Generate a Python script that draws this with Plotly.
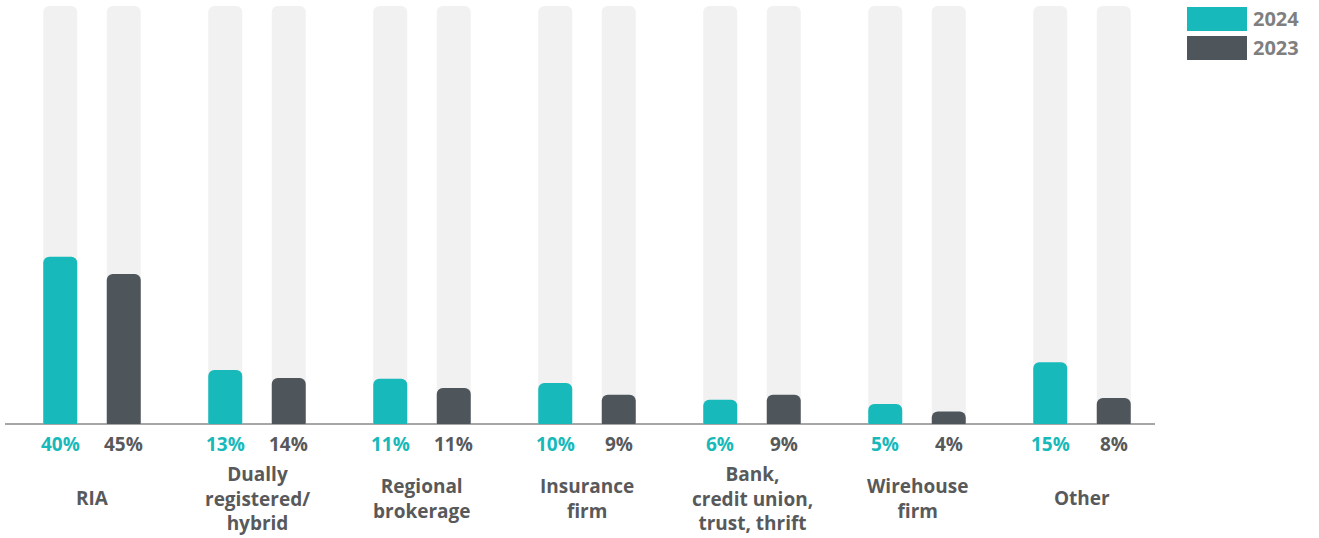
import numpy as np
import plotly.graph_objects as go

# ---- data ----
categories = ["RIA", "Dually<br>registered/<br>hybrid", "Regional<br>brokerage",
              "Insurance<br>firm", "Bank,<br>credit union,<br>trust, thrift",
              "Wirehouse<br>firm", "Other"]
labels_2024 = [40, 13, 11, 10, 6, 5, 15]
labels_2023 = [45, 14, 11, 9, 9, 4, 8]
# bar heights as drawn in the reference (percent of full track)
heights_2024 = [40.0, 12.9, 10.8, 9.8, 5.8, 4.8, 14.8]
heights_2023 = [35.9, 11.0, 8.6, 7.0, 7.0, 3.0, 6.2]
track_full = [100] * 7
series_names = ["2024", "2023"]

# ---- style ----
W, H = 1319, 538
TEAL = "#17B9BA"
DARK = "#4E565C"
TRACK = "#F1F1F1"
LABEL = "#58595B"
LEGEND_TXT = "#7F7F7F"
FONT = "Open Sans"
RADIUS = 6

px_per_cat = 165.0
first_center_px = 92.0
baseline_px = 424.0
px_per_unit = 4.18
off = 31.75 / px_per_cat
bw = 34 / px_per_cat

pos = np.arange(len(categories))
x24 = pos - off
x23 = pos + off

fig = go.Figure()
# background tracks on the base x axis
for xs in (x24, x23):
    fig.add_trace(go.Bar(x=xs, y=track_full, width=bw, xaxis="x", yaxis="y",
                         marker=dict(color=TRACK, line=dict(width=0), cornerradius=RADIUS),
                         hoverinfo="skip", showlegend=False))
# value bars on an overlaid x axis (same scale) so they get their own rounding
fig.add_trace(go.Bar(x=x24, y=heights_2024, width=bw, xaxis="x2", yaxis="y",
                     marker=dict(color=TEAL, line=dict(width=0), cornerradius=RADIUS),
                     name=series_names[0], showlegend=False))
fig.add_trace(go.Bar(x=x23, y=heights_2023, width=bw, xaxis="x2", yaxis="y",
                     marker=dict(color=DARK, line=dict(width=0), cornerradius=RADIUS),
                     name=series_names[1], showlegend=False))

annotations = []
for i in range(len(categories)):
    annotations.append(dict(x=x24[i], y=0, xref="x", yref="y", yshift=-20,
                            text=f"{labels_2024[i]}%", showarrow=False,
                            yanchor="middle", xanchor="center",
                            font=dict(family=FONT, size=19, color=TEAL, weight="bold")))
    annotations.append(dict(x=x23[i], y=0, xref="x", yref="y", yshift=-20,
                            text=f"{labels_2023[i]}%", showarrow=False,
                            yanchor="middle", xanchor="center",
                            font=dict(family=FONT, size=19, color=LABEL, weight="bold")))
    annotations.append(dict(x=pos[i], y=0, xref="x", yref="y", yshift=-74,
                            text=categories[i], showarrow=False,
                            yanchor="middle", xanchor="center", align="center",
                            font=dict(family=FONT, size=19, color=LABEL, weight="bold")))

# custom legend (wide swatches)
shapes = []
legend_colors = [TEAL, DARK]
for k, (nm, col) in enumerate(zip(series_names, legend_colors)):
    top = 7 + k * 29
    shapes.append(dict(type="rect", xref="paper", yref="paper",
                       x0=1187 / W, x1=1247 / W, y0=1 - (top + 24) / H, y1=1 - top / H,
                       fillcolor=col, line_width=0))
    annotations.append(dict(x=1251 / W, y=1 - (top + 12) / H, xref="paper", yref="paper",
                            text=nm, showarrow=False, xanchor="left", yanchor="middle",
                            font=dict(family=FONT, size=20, color=LEGEND_TXT, weight="bold")))

x_lo = (5 - first_center_px) / px_per_cat
x_hi = (1155 - first_center_px) / px_per_cat
y_top = baseline_px / px_per_unit
y_bot = -(H - baseline_px) / px_per_unit

axis_common = dict(domain=[5 / W, 1155 / W], range=[x_lo, x_hi], showgrid=False,
                   zeroline=False, showticklabels=False, showline=False, fixedrange=True)

fig.update_layout(
    width=W, height=H,
    margin=dict(l=0, r=0, t=0, b=0),
    paper_bgcolor="white", plot_bgcolor="white",
    barmode="overlay",
    xaxis=axis_common,
    xaxis2=dict(axis_common, overlaying="x", anchor="y"),
    yaxis=dict(range=[y_bot, y_top], showgrid=False, zeroline=True,
               zerolinecolor="#A6A6A6", zerolinewidth=1.5,
               showticklabels=False, showline=False, fixedrange=True),
    annotations=annotations, shapes=shapes,
    showlegend=False,
)

fig.write_html("out.html", config={"displayModeBar": False})
